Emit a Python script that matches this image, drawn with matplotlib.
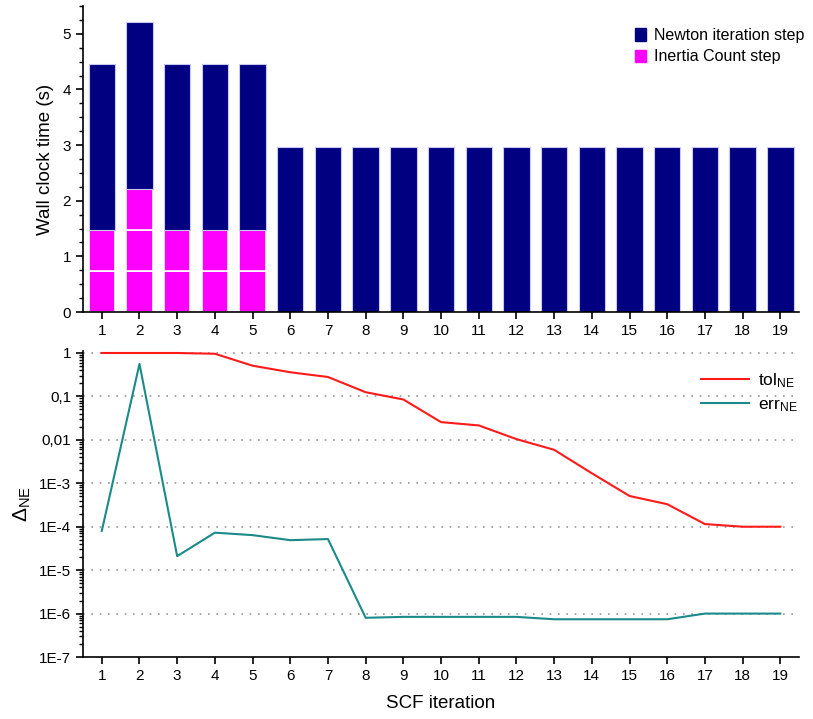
import numpy as np
import matplotlib
matplotlib.use("Agg")
import matplotlib.pyplot as plt
from matplotlib.patches import Patch
from matplotlib import ticker

plt.rcParams['font.family'] = ['Liberation Sans', 'DejaVu Sans']
plt.rcParams['mathtext.fontset'] = 'custom'
plt.rcParams['mathtext.rm'] = 'Liberation Sans'
plt.rcParams['mathtext.it'] = 'Liberation Sans:italic'

NAVY = '#000080'
MAGENTA = '#ff00ff'
RED = '#ff1a1a'
TEAL = '#1a8a8a'

# SCF iterations
iterations = list(range(1, 20))

# top panel: time per step (s)
inertia_step = 0.735
inertia_counts = [2, 3, 2, 2, 2] + [0] * 14
newton_time = [2.98, 3.0, 2.98, 2.98, 2.98] + [2.97] * 14

# bottom panel
tol_ne = [1.0, 1.0, 1.0, 0.96, 0.51, 0.36, 0.28, 0.125, 0.085, 0.0256, 0.0215,
          0.0104, 0.0059, 0.0017, 5.1e-4, 3.3e-4, 1.15e-4, 1.0e-4, 1.0e-4]
err_ne = [8.0e-5, 0.56, 2.1e-5, 7.3e-5, 6.4e-5, 4.9e-5, 5.2e-5, 8.0e-7, 8.4e-7,
          8.4e-7, 8.4e-7, 8.4e-7, 7.4e-7, 7.4e-7, 7.4e-7, 7.4e-7, 1.0e-6, 1.0e-6, 1.0e-6]

log_ticks = [1, 0.1, 0.01, 1e-3, 1e-4, 1e-5, 1e-6, 1e-7]
log_labels = ['1', '0,1', '0,01', '1E-3', '1E-4', '1E-5', '1E-6', '1E-7']

fig = plt.figure(figsize=(8.13, 7.19), dpi=100)
ax1 = fig.add_axes([0.102, 0.566, 0.881, 0.4256])
ax2 = fig.add_axes([0.102, 0.0862, 0.881, 0.4256])

# stacked bars
bw = 0.7
for i, x in enumerate(iterations):
    bottom = 0.0
    for k in range(inertia_counts[i]):
        ax1.bar(x, inertia_step, bw, bottom=bottom, color=MAGENTA,
                edgecolor='white', linewidth=1.2)
        bottom += inertia_step
    ax1.bar(x, newton_time[i], bw, bottom=bottom, color=NAVY,
            edgecolor='#c8c8f0', linewidth=0.8)

ax1.set_xlim(0.5, 19.5)
ax1.set_ylim(0, 5.5)
ax1.set_xticks(iterations)
ax1.yaxis.set_minor_locator(ticker.MultipleLocator(0.25))
ax1.set_ylabel('Wall clock time (s)', fontsize=13.5, labelpad=6)
for s in ['top', 'right']:
    ax1.spines[s].set_visible(False)
ax1.tick_params(axis='both', which='major', labelsize=11, length=5, width=1.2)
ax1.tick_params(axis='y', which='minor', length=3, width=1)
ax1.legend(handles=[Patch(color=NAVY), Patch(color=MAGENTA)],
           labels=['Newton iteration step', 'Inertia Count step'],
           loc='upper right', bbox_to_anchor=(1.027, 0.975), frameon=False,
           fontsize=11.5, handlelength=0.7, handleheight=0.8,
           handletextpad=0.5, labelspacing=0.4)

# log panel
ax2.plot(iterations, tol_ne, color=RED, lw=1.5, label=r'tol$_{\mathrm{NE}}$')
ax2.plot(iterations, err_ne, color=TEAL, lw=1.5, label=r'err$_{\mathrm{NE}}$')
ax2.set_yscale('log')
ax2.set_xlim(0.5, 19.5)
ax2.set_ylim(1e-7, 1.11)
ax2.set_xticks(iterations)
ax2.yaxis.set_major_locator(ticker.FixedLocator(log_ticks))
ax2.yaxis.set_major_formatter(ticker.FixedFormatter(log_labels))
ax2.yaxis.set_minor_locator(ticker.LogLocator(base=10, subs=np.arange(2, 10)))
ax2.yaxis.set_minor_formatter(ticker.NullFormatter())
for t in log_ticks[:-1]:
    ax2.axhline(t, color='#999999', lw=1.2, ls=(0, (1, 4)), zorder=0)
for s in ['top', 'right']:
    ax2.spines[s].set_visible(False)
ax2.tick_params(axis='both', which='major', labelsize=11, length=5, width=1.2)
ax2.tick_params(axis='y', which='minor', length=3, width=1)
ax2.set_ylabel(r'$\Delta_{\mathrm{NE}}$', fontsize=15, labelpad=4)
ax2.set_xlabel('SCF iteration', fontsize=13.5, labelpad=9)
ax2.legend(loc='upper right', bbox_to_anchor=(1.02, 0.985), frameon=False,
           fontsize=12.5, handlelength=2.8, handletextpad=0.5, labelspacing=0.4)

for ax in (ax1, ax2):
    for s in ['left', 'bottom']:
        ax.spines[s].set_linewidth(1.2)

fig.savefig('out.png', dpi=100)
